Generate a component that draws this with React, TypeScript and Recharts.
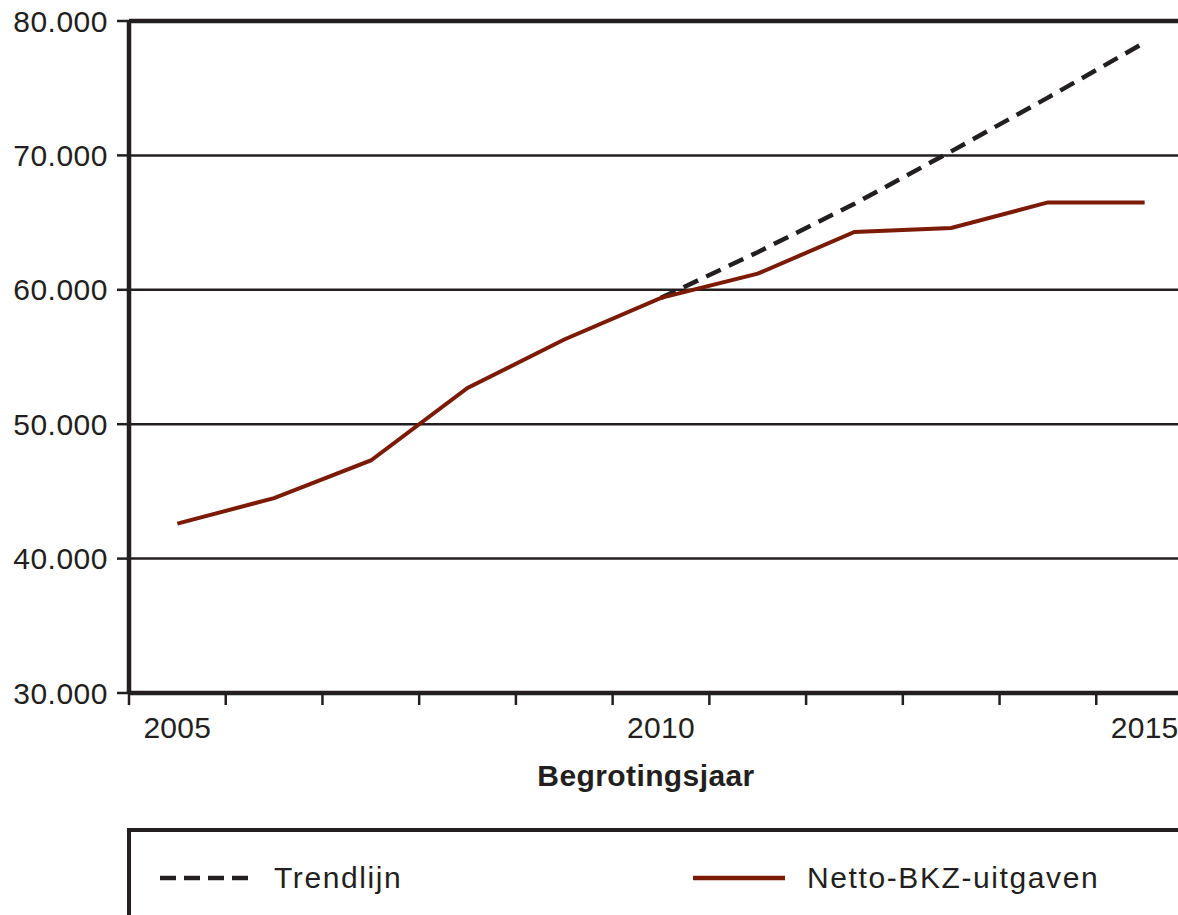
import React from 'react';
import { LineChart, Line, XAxis, YAxis, CartesianGrid, ReferenceLine, Label } from 'recharts';

const years = [2005, 2006, 2007, 2008, 2009, 2010, 2011, 2012, 2013, 2014, 2015];
const nettoBkz = [42600, 44500, 47300, 52700, 56300, 59400, 61200, 64300, 64600, 66500, 66500];
const trendlijn = [null, null, null, null, null, 59400, 62800, 66400, 70300, 74300, 78400];

const yTicks = [30000, 40000, 50000, 60000, 70000, 80000];
const yearLabels = [2005, 2010, 2015];
// tick marks sit between the years, not on them
const yearBounds = [2004.5, 2005.5, 2006.5, 2007.5, 2008.5, 2009.5, 2010.5, 2011.5, 2012.5, 2013.5, 2014.5, 2015.5];

const INK = '#231f20';
const RED = '#7b1a05';
const FONT = '"Liberation Sans", Arial, sans-serif';

const data = years.map((year, i) => ({
  year,
  netto: nettoBkz[i],
  trend: trendlijn[i],
}));

const legendItems = [
  { name: 'Trendlijn', color: INK, dash: '16 8', left: 160 },
  { name: 'Netto-BKZ-uitgaven', color: RED, dash: undefined, left: 693 },
];

const formatThousands = (v: number) => String(v).replace(/\B(?=(\d{3})+(?!\d))/g, '.');

export default function App() {
  return (
    <div
      style={{
        position: 'absolute',
        left: 0,
        top: 0,
        width: 1178,
        height: 915,
        overflow: 'hidden',
        background: '#fff',
        fontFamily: FONT,
      }}
    >
      <LineChart width={1200} height={820} data={data} margin={{ top: 21, right: 7, left: 0, bottom: 0 }}>
        <CartesianGrid vertical={false} stroke={INK} strokeWidth={2.5} />
        <XAxis
          xAxisId="marks"
          dataKey="year"
          type="number"
          domain={[2004.5, 2015.5]}
          ticks={yearBounds}
          tickFormatter={() => ''}
          height={1}
          tickSize={12}
          axisLine={{ stroke: INK, strokeWidth: 4.5 }}
          tickLine={{ stroke: INK, strokeWidth: 2.5 }}
        />
        <XAxis
          xAxisId="years"
          dataKey="year"
          type="number"
          domain={[2004.5, 2015.5]}
          ticks={yearLabels}
          height={126}
          axisLine={false}
          tickLine={false}
          tickSize={11}
          tickMargin={12}
          tick={{ fill: INK, fontSize: 30, fontFamily: FONT, letterSpacing: 0.3 }}
        >
          <Label
            value="Begrotingsjaar"
            position="insideBottom"
            offset={34}
            dx={-15}
            style={{ fill: INK, fontSize: 30, fontWeight: 700, fontFamily: FONT, letterSpacing: 0.4 }}
          />
        </XAxis>
        <YAxis
          type="number"
          domain={[30000, 80000]}
          ticks={yTicks}
          width={129}
          tickSize={12}
          tickMargin={9}
          tickFormatter={formatThousands}
          axisLine={{ stroke: INK, strokeWidth: 4.5 }}
          tickLine={{ stroke: INK, strokeWidth: 2.5 }}
          tick={{ fill: INK, fontSize: 30, fontFamily: FONT, letterSpacing: 0.5 }}
        />
        <ReferenceLine y={80000} xAxisId="years" stroke={INK} strokeWidth={4.5} />
        <Line
          xAxisId="years"
          dataKey="trend"
          stroke={INK}
          strokeWidth={4.5}
          strokeDasharray="16 9"
          dot={false}
          activeDot={false}
          connectNulls={false}
          isAnimationActive={false}
        />
        <Line
          xAxisId="years"
          dataKey="netto"
          stroke={RED}
          strokeWidth={4}
          dot={false}
          activeDot={false}
          isAnimationActive={false}
        />
      </LineChart>

      <div
        style={{
          position: 'absolute',
          left: 127,
          top: 828,
          width: 1100,
          height: 200,
          borderTop: `4.5px solid ${INK}`,
          borderLeft: `4.5px solid ${INK}`,
        }}
      />
      {legendItems.map((item) => (
        <div
          key={item.name}
          style={{
            position: 'absolute',
            left: item.left,
            top: 858,
            height: 40,
            display: 'flex',
            alignItems: 'center',
          }}
        >
          <svg width={92} height={10} style={{ display: 'block' }}>
            <line
              x1={0}
              y1={5}
              x2={92}
              y2={5}
              stroke={item.color}
              strokeWidth={4.5}
              strokeDasharray={item.dash}
            />
          </svg>
          <span
            style={{
              marginLeft: 22,
              fontSize: 30,
              color: INK,
              letterSpacing: 1.6,
              lineHeight: '40px',
            }}
          >
            {item.name}
          </span>
        </div>
      ))}
    </div>
  );
}
